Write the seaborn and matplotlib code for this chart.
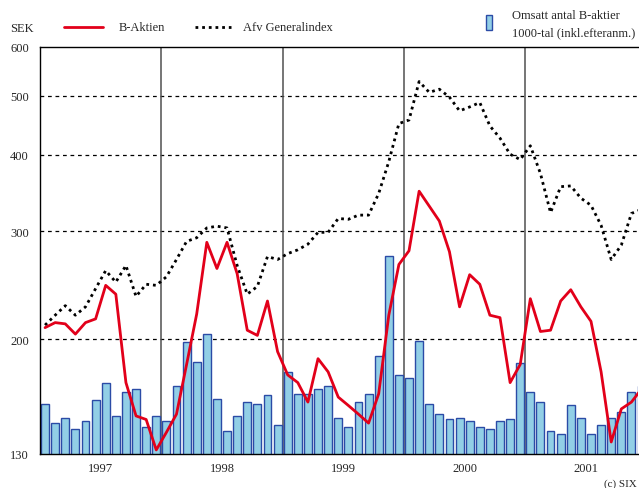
"""
B-Aktien vs Afv Generalindex, monthly 1997-2001, with traded volume bars.
"""

import numpy as np
import pandas as pd
import matplotlib
matplotlib.use("Agg")
import matplotlib.pyplot as plt
from matplotlib.lines import Line2D
from matplotlib.patches import Rectangle
from matplotlib.ticker import FixedLocator, NullLocator
import seaborn as sns

# --- data (monthly Jan 1997 - Dec 2001) ---
years = [1997, 1998, 1999, 2000, 2001]

b_aktien = [
    209, 213, 212, 204, 213, 216, 245, 237, 170, 150, 148, 132,
    141, 151, 182, 220, 288, 261, 288, 256, 207, 203, 231, 191,
    175, 170, 158, 186, 177, 161, 156, 151, 146, 163, 219, 265,
    279, 349, 330, 312, 278, 226, 255, 246, 219, 217, 170, 182,
    233, 206, 207, 231, 241, 226, 214, 177, 136, 154, 158, 166,
]

generalindex = [
    211, 219, 227, 219, 226, 242, 259, 248, 264, 235, 246, 245,
    253, 270, 289, 293, 304, 306, 304, 264, 237, 244, 273, 270,
    276, 280, 286, 299, 299, 315, 314, 319, 319, 346, 390, 450,
    456, 527, 506, 512, 497, 472, 479, 487, 446, 426, 401, 393,
    414, 373, 322, 355, 356, 340, 331, 307, 270, 285, 321, 326,
]

# bar tops, in units of the SEK axis
volume = [
    157, 146, 149, 143, 147, 159, 170, 150, 164, 166, 144, 150,
    147, 168, 198, 184, 204, 160, 142, 150, 158, 157, 162, 145,
    177, 163, 163, 166, 168, 149, 144, 158, 163, 188, 274, 175,
    173, 199, 157, 151, 148, 149, 147, 144, 143, 147, 148, 183,
    164, 158, 142, 140, 156, 149, 140, 145, 149, 152, 164, 168,
]

y_ticks = [130, 200, 300, 400, 500, 600]
grid_levels = [200, 300, 400, 500]

RED = '#E2001A'
BAR_FACE = '#92CFE6'
BAR_EDGE = '#2B4BA6'

W, H = 639, 489

sns.set_style("white")
plt.rcParams['font.family'] = ['Liberation Serif', 'DejaVu Serif']

df = pd.DataFrame({
    'month': np.arange(len(b_aktien)),
    'b_aktien': b_aktien,
    'generalindex': generalindex,
    'volume': volume,
})

fig = plt.figure(figsize=(W / 100, H / 100), dpi=100)
ax = fig.add_axes([40 / W, 1 - 455 / H, 598 / W, 407 / H])

# guide lines
for lvl in grid_levels:
    ax.axhline(lvl, color='black', lw=0.9, ls=(0, (3, 3)), zorder=1)
for k in range(1, len(years)):
    ax.axvline(12 * k - 0.5, color='#505050', lw=1.1, zorder=1)

sns.barplot(data=df, x='month', y='volume', native_scale=True, width=0.78,
            color=BAR_FACE, edgecolor=BAR_EDGE, linewidth=1, saturation=1,
            ax=ax, zorder=2)
sns.lineplot(data=df, x='month', y='generalindex', color='black', lw=2,
             linestyle=(0, (1, 1.4)), ax=ax, zorder=3)
sns.lineplot(data=df, x='month', y='b_aktien', color=RED, lw=2, ax=ax, zorder=4)

ax.set_yscale('log')
ax.set_ylim(130, 600)
ax.set_xlim(-0.5, 58.65)

ax.yaxis.set_major_locator(FixedLocator(y_ticks))
ax.yaxis.set_minor_locator(NullLocator())
ax.set_yticklabels([str(t) for t in y_ticks])
ax.tick_params(axis='y', length=5, width=1, color='black', direction='out',
               pad=3, labelsize=9)

ax.set_xticks([12 * k + 5.5 for k in range(len(years))])
ax.set_xticklabels([str(y) for y in years])
ax.xaxis.set_minor_locator(NullLocator())
ax.tick_params(axis='x', length=0, pad=6, labelsize=9)
ax.set_xlabel('')
ax.set_ylabel('')

for side in ['left', 'bottom', 'top']:
    ax.spines[side].set_color('black')
    ax.spines[side].set_linewidth(1)
ax.spines['right'].set_visible(False)

# legend, drawn by hand in figure pixels
def fx(px):
    return px / W


def fy(py):
    return 1 - py / H


fig.add_artist(Line2D([fx(64), fx(103)], [fy(28), fy(28)], color=RED, lw=2))
fig.text(fx(119), fy(28), 'B-Aktien', va='center', fontsize=9)
fig.add_artist(Line2D([fx(195), fx(231)], [fy(28), fy(28)], color='black',
                      lw=2, ls=(0, (1, 1.4))))
fig.text(fx(243), fy(28), 'Afv Generalindex', va='center', fontsize=9)
fig.add_artist(Rectangle((fx(486), fy(31)), 6 / W, 15 / H,
                         facecolor=BAR_FACE, edgecolor=BAR_EDGE, lw=1))
fig.text(fx(512), fy(16), 'Omsatt antal B-aktier', va='center', fontsize=9)
fig.text(fx(512), fy(33), '1000-tal (inkl.efteranm.)', va='center', fontsize=9)
fig.text(fx(10), fy(29), 'SEK', va='center', fontsize=9)
fig.text(fx(637), fy(484), '(c) SIX', ha='right', va='center', fontsize=8)

fig.savefig('out.png', dpi=100)
